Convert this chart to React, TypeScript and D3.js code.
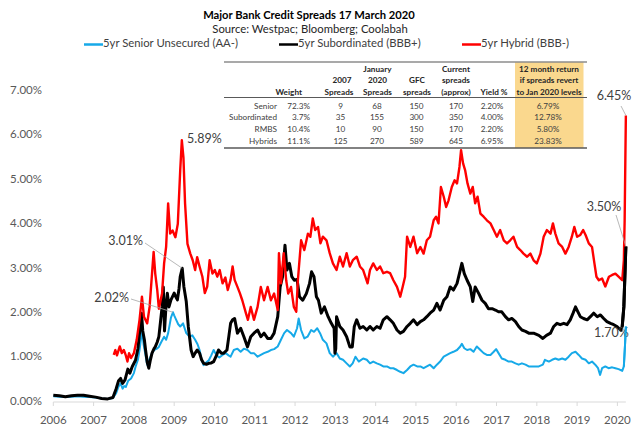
import React from "react";
import * as d3 from "d3";

type P = [number, number];

const seniorSeries: P[] = [
  [2006.0,0.13],[2006.15,0.12],[2006.3,0.11],[2006.45,0.12],[2006.6,0.13],[2006.75,0.12],[2006.9,0.11],[2007.05,0.1],[2007.2,0.08],[2007.35,0.07],[2007.48,0.09],
  [2007.56,0.2],[2007.62,0.35],[2007.67,0.42],[2007.72,0.3],[2007.76,0.36],[2007.8,0.34],[2007.86,0.48],[2007.93,0.53],[2008.0,0.65],[2008.04,0.79],[2008.1,0.95],
  [2008.14,1.17],[2008.18,1.45],[2008.2,1.66],[2008.24,1.3],[2008.28,1.1],[2008.33,0.84],[2008.38,0.95],[2008.45,1.1],[2008.5,1.17],[2008.57,1.2],[2008.62,1.24],
  [2008.68,1.35],[2008.75,1.47],[2008.8,1.4],[2008.85,1.55],[2008.92,1.9],[2008.97,2.02],[2009.0,1.95],[2009.05,1.85],[2009.1,1.75],[2009.15,1.7],[2009.22,1.77],
  [2009.3,1.55],[2009.38,1.47],[2009.45,1.5],[2009.52,1.4],[2009.58,1.3],[2009.63,1.17],[2009.68,0.95],[2009.73,0.83],[2009.78,0.88],[2009.86,0.94],[2009.92,1.05],
  [2009.98,1.17],[2010.05,1.05],[2010.12,1.0],[2010.2,1.06],[2010.28,1.1],[2010.35,1.05],[2010.4,1.02],[2010.48,1.17],[2010.57,1.2],[2010.65,1.13],[2010.73,1.2],
  [2010.82,1.17],[2010.9,1.1],[2010.98,1.1],[2011.07,1.02],[2011.15,1.06],[2011.23,1.1],[2011.32,1.13],[2011.4,1.17],[2011.48,1.19],[2011.57,1.25],[2011.65,1.4],
  [2011.73,1.55],[2011.8,1.62],[2011.9,1.55],[2011.97,1.47],[2012.05,1.66],[2012.09,1.88],[2012.15,1.62],[2012.23,1.43],[2012.31,1.47],[2012.4,1.62],[2012.47,1.58],
  [2012.55,1.66],[2012.62,1.55],[2012.69,1.4],[2012.78,1.32],[2012.86,1.1],[2012.94,1.02],[2013.03,1.1],[2013.11,0.98],[2013.19,0.95],[2013.28,0.87],[2013.36,0.8],
  [2013.43,0.87],[2013.5,1.02],[2013.58,0.91],[2013.69,0.98],[2013.78,0.95],[2013.86,0.87],[2013.94,0.91],[2014.03,0.87],[2014.11,0.84],[2014.19,0.8],[2014.28,0.8],
  [2014.36,0.76],[2014.44,0.76],[2014.53,0.72],[2014.61,0.68],[2014.69,0.65],[2014.78,0.72],[2014.86,0.8],[2014.94,0.84],[2015.03,0.8],[2015.11,0.8],[2015.19,0.76],
  [2015.27,0.8],[2015.35,0.84],[2015.44,0.76],[2015.52,0.84],[2015.6,0.91],[2015.69,1.02],[2015.77,1.06],[2015.85,1.1],[2015.93,1.13],[2016.02,1.17],[2016.1,1.25],
  [2016.14,1.31],[2016.2,1.21],[2016.27,1.17],[2016.35,1.19],[2016.43,1.13],[2016.51,1.25],[2016.6,1.17],[2016.68,1.1],[2016.76,1.06],[2016.85,1.06],[2016.93,1.13],
  [2016.99,1.19],[2017.05,1.1],[2017.13,0.98],[2017.22,0.95],[2017.3,0.91],[2017.38,0.91],[2017.47,0.87],[2017.55,0.84],[2017.63,0.87],[2017.72,0.84],[2017.8,0.8],
  [2017.92,0.8],[2018.05,0.8],[2018.15,0.84],[2018.2,0.95],[2018.3,0.91],[2018.38,0.95],[2018.46,0.98],[2018.54,0.95],[2018.63,0.98],[2018.71,0.95],[2018.79,1.02],
  [2018.87,1.1],[2018.96,1.13],[2019.04,1.06],[2019.12,0.98],[2019.21,0.95],[2019.29,0.87],[2019.37,0.91],[2019.45,0.84],[2019.52,0.76],[2019.57,0.61],[2019.62,0.76],
  [2019.7,0.8],[2019.78,0.76],[2019.87,0.78],[2019.95,0.76],[2020.03,0.74],[2020.12,0.7],[2020.16,0.8],[2020.19,1.3],[2020.21,1.7],
];

const subSeries: P[] = [
  [2006.0,0.15],[2006.15,0.14],[2006.3,0.12],[2006.45,0.14],[2006.6,0.15],[2006.75,0.15],[2006.9,0.13],[2007.05,0.11],[2007.2,0.08],[2007.35,0.07],[2007.48,0.1],
  [2007.56,0.3],[2007.62,0.48],[2007.67,0.53],[2007.72,0.42],[2007.78,0.5],[2007.85,0.74],[2007.9,0.65],[2007.96,0.8],[2008.04,0.94],[2008.1,1.2],[2008.14,1.55],
  [2008.19,2.0],[2008.22,1.6],[2008.26,1.4],[2008.29,1.17],[2008.33,0.9],[2008.37,0.76],[2008.41,0.95],[2008.45,1.1],[2008.5,1.2],[2008.53,1.24],[2008.58,1.35],
  [2008.62,1.47],[2008.66,1.8],[2008.7,2.14],[2008.73,2.59],[2008.76,1.6],[2008.8,2.2],[2008.83,2.45],[2008.87,2.14],[2008.92,2.3],[2009.0,2.45],[2009.05,2.35],
  [2009.08,2.3],[2009.12,2.55],[2009.15,2.82],[2009.2,3.01],[2009.24,2.6],[2009.3,2.26],[2009.35,1.7],[2009.42,1.17],[2009.47,1.02],[2009.52,1.1],[2009.57,1.17],
  [2009.63,1.1],[2009.68,0.95],[2009.73,0.87],[2009.8,0.85],[2009.86,0.87],[2009.92,0.88],[2009.98,0.91],[2010.05,1.05],[2010.1,1.17],[2010.17,1.1],[2010.23,1.1],
  [2010.31,1.17],[2010.36,1.5],[2010.4,1.77],[2010.45,1.85],[2010.5,1.88],[2010.57,1.55],[2010.65,1.66],[2010.73,1.47],[2010.82,1.24],[2010.9,1.47],[2010.98,1.55],
  [2011.07,1.62],[2011.15,1.47],[2011.23,1.55],[2011.32,1.43],[2011.4,1.43],[2011.48,1.55],[2011.57,1.92],[2011.63,2.59],[2011.69,2.82],[2011.75,3.53],[2011.8,2.97],
  [2011.86,3.12],[2011.92,2.82],[2011.98,2.74],[2012.05,2.76],[2012.11,2.37],[2012.19,2.29],[2012.28,2.44],[2012.36,2.67],[2012.41,2.93],[2012.47,2.82],[2012.53,2.37],
  [2012.58,2.29],[2012.65,2.0],[2012.73,2.14],[2012.82,1.92],[2012.9,1.77],[2012.97,1.66],[2012.99,1.1],[2013.01,1.2],[2013.03,1.92],[2013.11,1.7],[2013.19,1.62],
  [2013.28,1.47],[2013.36,1.24],[2013.42,1.24],[2013.47,1.7],[2013.53,1.85],[2013.61,1.66],[2013.69,1.7],[2013.78,1.62],[2013.86,1.7],[2013.94,1.62],[2014.03,1.7],
  [2014.11,1.66],[2014.19,1.85],[2014.28,1.92],[2014.36,1.85],[2014.44,1.77],[2014.53,1.62],[2014.61,1.55],[2014.69,1.59],[2014.78,1.7],[2014.86,1.77],[2014.94,1.85],
  [2015.03,1.74],[2015.11,1.81],[2015.19,1.85],[2015.27,1.92],[2015.35,2.0],[2015.44,2.07],[2015.52,2.22],[2015.6,2.07],[2015.69,2.29],[2015.77,2.37],[2015.85,2.59],
  [2015.93,2.52],[2016.02,2.67],[2016.1,2.97],[2016.14,3.12],[2016.2,2.89],[2016.27,2.74],[2016.35,2.59],[2016.41,2.26],[2016.47,2.59],[2016.56,2.44],[2016.64,2.29],
  [2016.72,2.22],[2016.8,2.1],[2016.89,2.1],[2016.97,2.07],[2017.05,2.03],[2017.13,2.03],[2017.22,1.92],[2017.3,1.85],[2017.38,1.88],[2017.47,1.81],[2017.55,1.7],
  [2017.63,1.62],[2017.72,1.59],[2017.8,1.55],[2017.92,1.55],[2018.05,1.5],[2018.15,1.43],[2018.24,1.5],[2018.34,1.55],[2018.42,1.7],[2018.5,1.77],[2018.58,1.74],
  [2018.67,1.77],[2018.75,1.74],[2018.83,1.85],[2018.9,2.0],[2018.96,2.14],[2019.02,2.03],[2019.08,1.92],[2019.16,1.88],[2019.25,1.85],[2019.33,1.92],[2019.41,2.0],
  [2019.5,1.92],[2019.58,1.96],[2019.66,1.88],[2019.74,1.81],[2019.83,1.77],[2019.91,1.74],[2019.99,1.7],[2020.08,1.62],[2020.12,1.7],[2020.16,2.14],[2020.21,3.5],
];

const hybridSeries: P[] = [
  [2007.5,1.06],[2007.54,1.17],[2007.58,1.05],[2007.65,1.25],[2007.7,1.1],[2007.75,1.17],[2007.8,1.05],[2007.84,0.91],[2007.88,1.1],[2007.93,0.99],[2008.0,1.1],
  [2008.07,1.4],[2008.14,1.85],[2008.2,2.37],[2008.25,1.92],[2008.33,1.77],[2008.39,2.14],[2008.45,2.89],[2008.49,3.38],[2008.53,2.89],[2008.58,2.52],[2008.62,2.1],
  [2008.7,2.45],[2008.75,3.12],[2008.8,3.49],[2008.85,4.47],[2008.9,3.79],[2008.96,3.86],[2009.03,3.71],[2009.09,4.01],[2009.15,5.22],[2009.19,5.89],[2009.23,5.5],
  [2009.27,4.47],[2009.33,3.56],[2009.4,3.34],[2009.46,3.19],[2009.52,2.97],[2009.57,3.26],[2009.63,3.05],[2009.7,2.82],[2009.76,2.45],[2009.82,2.6],[2009.88,3.19],
  [2009.95,2.89],[2010.01,2.97],[2010.07,2.82],[2010.13,2.97],[2010.2,2.67],[2010.27,2.8],[2010.33,2.52],[2010.4,2.75],[2010.45,3.05],[2010.5,2.75],[2010.57,2.59],
  [2010.63,2.45],[2010.69,2.29],[2010.78,2.0],[2010.83,1.85],[2010.9,2.14],[2010.98,1.85],[2011.07,2.14],[2011.15,2.59],[2011.23,2.29],[2011.32,2.59],[2011.4,2.29],
  [2011.48,2.44],[2011.57,2.07],[2011.6,3.35],[2011.65,2.67],[2011.72,3.35],[2011.78,2.74],[2011.83,2.44],[2011.9,2.59],[2011.97,2.14],[2012.03,2.03],[2012.07,2.74],
  [2012.15,3.64],[2012.23,3.42],[2012.32,3.79],[2012.38,3.72],[2012.44,4.13],[2012.5,3.87],[2012.57,3.94],[2012.63,3.57],[2012.69,3.72],[2012.78,3.64],[2012.86,3.35],
  [2012.94,3.12],[2013.03,2.97],[2013.11,3.27],[2013.19,3.05],[2013.28,3.35],[2013.36,3.05],[2013.44,3.2],[2013.53,3.27],[2013.61,3.05],[2013.69,2.97],[2013.8,2.67],
  [2013.86,2.97],[2013.94,3.12],[2014.03,2.97],[2014.11,3.05],[2014.19,2.9],[2014.28,2.93],[2014.36,2.9],[2014.44,2.74],[2014.53,2.59],[2014.61,2.37],[2014.67,2.59],
  [2014.73,2.82],[2014.78,3.72],[2014.86,3.49],[2014.94,3.72],[2015.03,3.35],[2015.11,3.49],[2015.19,3.34],[2015.27,3.64],[2015.35,3.72],[2015.44,4.09],[2015.5,4.17],
  [2015.56,4.02],[2015.62,4.84],[2015.69,4.62],[2015.75,4.39],[2015.81,4.54],[2015.89,4.84],[2015.96,4.99],[2016.02,4.92],[2016.08,5.29],[2016.12,5.67],[2016.17,5.37],
  [2016.22,5.22],[2016.28,4.92],[2016.35,4.69],[2016.41,4.84],[2016.47,4.47],[2016.53,4.62],[2016.6,4.24],[2016.68,4.17],[2016.76,4.09],[2016.85,4.02],[2016.93,3.87],
  [2017.01,3.72],[2017.09,3.87],[2017.18,3.64],[2017.26,3.57],[2017.34,3.64],[2017.42,3.72],[2017.51,3.49],[2017.59,3.42],[2017.67,3.34],[2017.76,3.27],[2017.84,3.34],
  [2017.92,3.19],[2018.0,3.12],[2018.09,3.34],[2018.17,3.72],[2018.25,3.87],[2018.34,3.79],[2018.4,4.02],[2018.46,3.79],[2018.54,3.57],[2018.63,3.49],[2018.71,3.34],
  [2018.79,3.49],[2018.87,3.72],[2018.93,3.94],[2019.0,3.72],[2019.08,3.76],[2019.15,3.87],[2019.21,3.76],[2019.29,3.57],[2019.37,3.49],[2019.43,3.12],[2019.48,2.82],
  [2019.54,2.74],[2019.62,2.78],[2019.7,2.6],[2019.79,2.82],[2019.87,2.86],[2019.95,2.89],[2020.03,2.82],[2020.12,2.74],[2020.16,3.19],[2020.18,4.09],[2020.21,6.45],
];

const yearTicks = [2006,2007,2008,2009,2010,2011,2012,2013,2014,2015,2016,2017,2018,2019,2020];
const pctTicks = [0,1,2,3,4,5,6,7];

const tableRowLabels = ["Senior","Subordinated","RMBS","Hybrids"];
const tableWeight = ["72.3%","3.7%","10.4%","11.1%"];
const tableSpreads2007 = ["9","35","10","125"];
const tableSpreadsJan2020 = ["68","155","90","270"];
const tableGfc = ["150","300","150","589"];
const tableCurrent = ["170","350","170","645"];
const tableYield = ["2.20%","4.00%","2.20%","6.95%"];
const tableReturn = ["6.79%","12.78%","5.80%","23.83%"];

const FONT = "Lato, 'Open Sans', sans-serif";

export default function App() {
  const x = d3.scaleLinear().domain([2006, 2020]).range([53.3, 617.4]);
  const y = d3.scaleLinear().domain([0, 7]).range([402, 91]);
  const line = d3.line<P>().x(d => x(d[0])).y(d => y(d[1]));

  const series = [
    { data: seniorSeries, color: "#16A9E8", width: 2 },
    { data: subSeries, color: "#000000", width: 3 },
    { data: hybridSeries, color: "#FF0000", width: 2.4 },
  ];

  const axisColor = "#595959";
  const hdr = (t: string, cx: number, cy: number, anchor = "middle") => (
    <text x={cx} y={cy} textAnchor={anchor} fontWeight="bold" fontSize={8.2} fill="#262626" dominantBaseline="middle">{t}</text>
  );
  const rowY = [106.5, 118, 130, 142];
  const cols: { vals: string[]; x: number; anchor: string }[] = [
    { vals: tableWeight, x: 310, anchor: "end" },
    { vals: tableSpreads2007, x: 340.5, anchor: "middle" },
    { vals: tableSpreadsJan2020, x: 377, anchor: "middle" },
    { vals: tableGfc, x: 416.5, anchor: "middle" },
    { vals: tableCurrent, x: 456, anchor: "middle" },
    { vals: tableYield, x: 492, anchor: "middle" },
    { vals: tableReturn, x: 548, anchor: "middle" },
  ];

  const lastSub = subSeries[subSeries.length - 1];
  const lastHyb = hybridSeries[hybridSeries.length - 1];

  return (
    <svg width={634} height={427} style={{ position: "absolute", left: 0, top: 0, background: "#fff" }} fontFamily={FONT}>
      <rect width={634} height={427} fill="#fff" />
      {/* Title */}
      <text x={309} y={16} textAnchor="middle" fontWeight="bold" fontSize={11.2} fill="#000" dominantBaseline="middle">Major Bank Credit Spreads 17 March 2020</text>
      <text x={310} y={30.5} textAnchor="middle" fontSize={11.3} fill="#262626" dominantBaseline="middle">Source: Westpac; Bloomberg; Coolabah</text>
      {/* Legend */}
      {[
        { label: "5yr Senior Unsecured (AA-)", color: "#16A9E8", x0: 84 },
        { label: "5yr Subordinated (BBB+)", color: "#000", x0: 279 },
        { label: "5yr Hybrid (BBB-)", color: "#FF0000", x0: 462 },
      ].map(l => (
        <g key={l.label}>
          <line x1={l.x0} x2={l.x0 + 19} y1={44.5} y2={44.5} stroke={l.color} strokeWidth={2.5} />
          <text x={l.x0 + 19} y={44.5} fontSize={11.3} fill="#404040" dominantBaseline="middle">{l.label}</text>
        </g>
      ))}
      {/* Y axis labels */}
      {pctTicks.map(t => (
        <text key={t} x={42} y={y(t)} textAnchor="end" fontSize={11.5} fill={axisColor} dominantBaseline="middle">{t.toFixed(2)}%</text>
      ))}
      {/* X axis */}
      <line x1={x(2006)} x2={x(2020.21)} y1={y(0)} y2={y(0)} stroke="#d9d9d9" strokeWidth={1} />
      {yearTicks.map(t => (
        <g key={t}>
          <line x1={x(t)} x2={x(t)} y1={y(0)} y2={y(0) + 4} stroke="#d9d9d9" />
          <text x={x(t)} y={421} textAnchor="middle" fontSize={11.5} fill={axisColor} dominantBaseline="middle">{t}</text>
        </g>
      ))}
      {/* Series */}
      {series.map((s, i) => (
        <path key={i} d={line(s.data) || ""} fill="none" stroke={s.color} strokeWidth={s.width} strokeLinejoin="round" />
      ))}
      {/* Annotations */}
      <g fontSize={12.5} fill="#404040">
        <text x={187} y={y(5.89)} dominantBaseline="middle">5.89%</text>
        <text x={143} y={242} textAnchor="end" dominantBaseline="middle">3.01%</text>
        <line x1={145} y1={243} x2={x(2009.2)} y2={y(3.01)} stroke="#a6a6a6" strokeWidth={0.8} />
        <text x={129} y={299} textAnchor="end" dominantBaseline="middle">2.02%</text>
        <line x1={131} y1={299} x2={x(2008.97)} y2={y(2.02)} stroke="#a6a6a6" strokeWidth={0.8} />
        <text x={614} y={97} textAnchor="middle" dominantBaseline="middle">6.45%</text>
        <line x1={621} y1={106} x2={x(lastHyb[0])} y2={y(lastHyb[1])} stroke="#a6a6a6" strokeWidth={0.8} />
        <text x={604} y={208} textAnchor="middle" dominantBaseline="middle">3.50%</text>
        <line x1={616} y1={215} x2={x(lastSub[0])} y2={y(lastSub[1])} stroke="#a6a6a6" strokeWidth={0.8} />
        <text x={594} y={334} dominantBaseline="middle">1.70%</text>
      </g>
      {/* redraw final spikes over annotation */}
      <path d={line(subSeries.slice(-3)) || ""} fill="none" stroke="#000" strokeWidth={3} />
      <path d={line(seniorSeries.slice(-3)) || ""} fill="none" stroke="#16A9E8" strokeWidth={2} />
      {/* Table */}
      <g fontSize={8.2} fill="#404040">
        <rect x={224} y={62} width={363} height={86} fill="#fff" />
        <rect x={515} y={62} width={68.5} height={86} fill="#FAD88E" />
        <line x1={224} x2={587} y1={62} y2={62} stroke="#8c8c8c" strokeWidth={1.5} />
        <line x1={224} x2={587} y1={97.5} y2={97.5} stroke="#595959" strokeWidth={1.2} />
        <line x1={224} x2={587} y1={148} y2={148} stroke="#595959" strokeWidth={1.5} />
        {hdr("Weight", 302, 92.5, "end")}
        {hdr("2007", 342, 81)}
        {hdr("Spreads", 339, 92.5)}
        {hdr("January", 377.5, 69.5)}
        {hdr("2020", 377.5, 81)}
        {hdr("Spreads", 377.5, 92.5)}
        {hdr("GFC", 417, 81)}
        {hdr("spreads", 417, 92.5)}
        {hdr("Current", 456, 69.5)}
        {hdr("spreads", 456, 81)}
        {hdr("(approx)", 456, 92.5)}
        {hdr("Yield %", 494, 92.5)}
        {hdr("12 month return", 549, 69.5)}
        {hdr("if spreads revert", 549, 81)}
        {hdr("to Jan 2020 levels", 549, 92.5)}
        {tableRowLabels.map((r, i) => (
          <text key={r} x={277} y={rowY[i]} textAnchor="end" dominantBaseline="middle">{r}</text>
        ))}
        {cols.map((c, ci) =>
          c.vals.map((v, i) => (
            <text key={ci + "-" + i} x={c.x} y={rowY[i]} textAnchor={c.anchor} dominantBaseline="middle">{v}</text>
          ))
        )}
      </g>
    </svg>
  );
}
